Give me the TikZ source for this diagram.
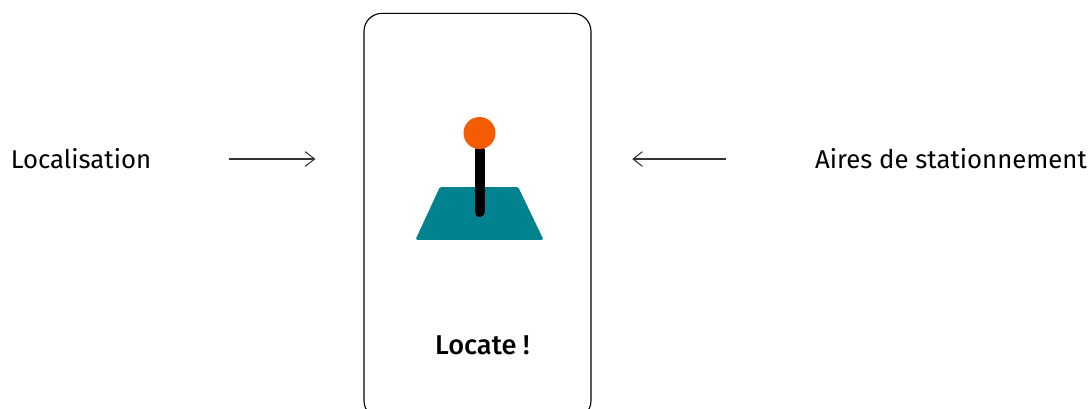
\documentclass[tikz,border=0pt]{standalone}
\usepackage{fontspec}
\setmainfont{Fira Sans}[BoldFont={Fira Sans Medium}]
\usetikzlibrary{arrows.meta}
\definecolor{padteal}{HTML}{00838F}
\definecolor{knoborange}{HTML}{F55B00}
\tikzset{
  label/.style={font=\fontsize{19.3}{22}\selectfont, anchor=base, inner sep=0pt},
  link/.style={draw=black!80, line width=0.85pt, -{Straight Barb[length=7pt,width=11pt,line width=0.8pt]}},
}
\begin{document}
\begin{tikzpicture}[x=0.75pt,y=-0.75pt]
  \useasboundingbox (0,0) rectangle (1090,408);

  % Phone
  \node[draw, line width=0.85pt, rounded corners=13.5pt, minimum width=170.25pt,
        minimum height=304pt, inner sep=0pt] (phone) at (477.5,216) {};

  % Labels
  \node[label] (loc) at (81,168) {Localisation};
  \node[label] (aires) at (951,168) {Aires de stationnement};
  \node[label, font=\fontsize{20.4}{22}\selectfont\bfseries] (locate) at (482.5,354) {Locate !};

  % Pin
  \draw[fill=padteal, draw=padteal, line width=0.5pt, rounded corners=1pt]
    (440,187.5) -- (518,187.5) -- (543,239.5) -- (416,239.5) -- cycle;
  \draw[line width=7.5pt, line cap=round] (479.5,150) -- (479.5,212);
  \node[circle, fill=knoborange, minimum size=24pt, inner sep=0pt] (knob) at (479.5,133) {};

  % Arrows
  \coordinate (locend) at (151,159);
  \coordinate (airesend) at (816,159);
  \draw[link, shorten <=58.5pt, shorten >=36pt] (locend) -- (locend -| phone.west);
  \draw[link, shorten <=67.5pt, shorten >=30.5pt] (airesend) -- (airesend -| phone.east);
\end{tikzpicture}
\end{document}
